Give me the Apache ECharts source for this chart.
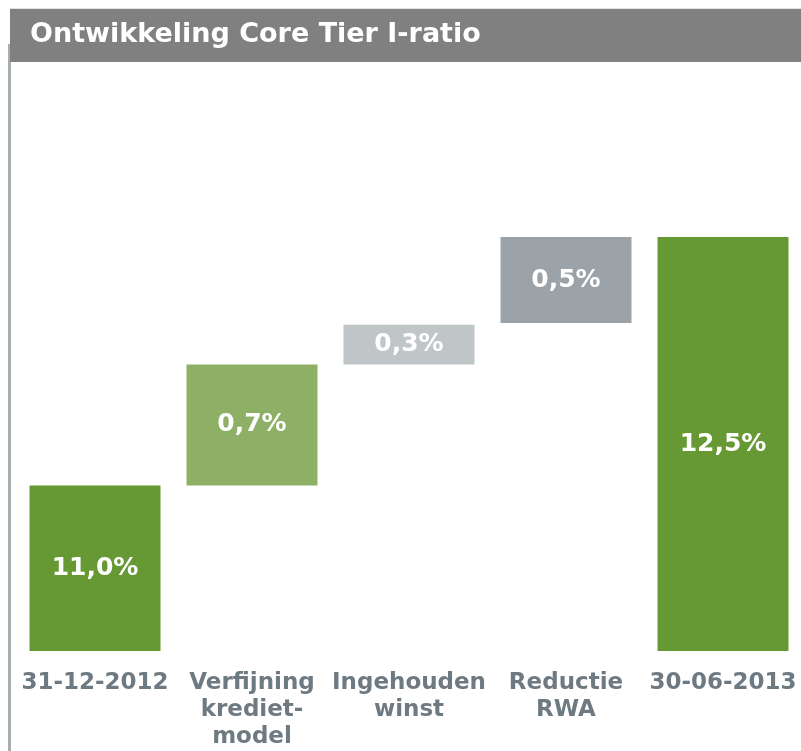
<!DOCTYPE html>
<html>
<head>
<meta charset="utf-8">
<script src="https://cdn.jsdelivr.net/npm/echarts@6/dist/echarts.min.js"></script>
<style>
html,body{margin:0;padding:0;background:#ffffff;}
#chart{width:801px;height:751px;}
</style>
</head>
<body>
<div id="chart"></div>
<script>
// Data
var categories = ['31-12-2012', 'Verfijning\nkrediet-\nmodel', 'Ingehouden\nwinst', 'Reductie\nRWA', '30-06-2013'];
var barBottoms = [10, 11.0, 11.73, 11.98, 10];
var barTops = [11.0, 11.73, 11.97, 12.5, 12.5];
var valueLabels = ['11,0%', '0,7%', '0,3%', '0,5%', '12,5%'];
var barColors = ['#669933', '#8db066', '#c0c5c8', '#9ca3a8', '#669933'];
var titleText = 'Ontwikkeling Core Tier I-ratio';

var chart = echarts.init(document.getElementById('chart'), null, {renderer: 'canvas'});

var baseData = barBottoms.slice();
var deltaData = barTops.map(function (t, i) {
  return {
    value: +(t - barBottoms[i]).toFixed(4),
    itemStyle: {color: barColors[i]},
    label: {formatter: valueLabels[i]}
  };
});

var option = {
  animation: false,
  backgroundColor: '#ffffff',
  graphic: [
    {type: 'rect', shape: {x: 8, y: 44, width: 3, height: 707}, style: {fill: '#a8afb3'}, z: 1},
    {type: 'rect', shape: {x: 10, y: 8, width: 791, height: 1}, style: {fill: '#e2e2e2'}, z: 2},
    {type: 'rect', shape: {x: 10, y: 9, width: 791, height: 53}, style: {fill: '#808080'}, z: 2},
    {type: 'text', x: 30, y: 35, z: 3,
      style: {text: titleText, fill: '#ffffff', font: 'bold 27px "DejaVu Sans"', textVerticalAlign: 'middle'}}
  ],
  grid: {left: 16.5, width: 785, top: 237, height: 414, containLabel: false, outerBoundsMode: 'none'},
  xAxis: {
    type: 'category',
    data: categories,
    axisLine: {show: false},
    axisTick: {show: false},
    axisLabel: {
      interval: 0,
      margin: 19,
      color: '#6e7a82',
      fontFamily: 'DejaVu Sans',
      fontWeight: 'bold',
      fontSize: 23,
      lineHeight: 27,
      align: 'center',
      verticalAlign: 'top'
    }
  },
  yAxis: {
    type: 'value',
    min: 10,
    max: 12.5,
    show: false,
    splitLine: {show: false}
  },
  series: [
    {
      type: 'bar',
      stack: 'wf',
      data: baseData,
      barWidth: 131,
      itemStyle: {color: 'transparent'},
      emphasis: {disabled: true},
      silent: true
    },
    {
      type: 'bar',
      stack: 'wf',
      data: deltaData,
      barWidth: 131,
      label: {
        show: true,
        position: 'inside',
        color: '#ffffff',
        fontFamily: 'DejaVu Sans',
        fontWeight: 'bold',
        fontSize: 25
      }
    }
  ]
};
chart.setOption(option);
</script>
</body>
</html>
